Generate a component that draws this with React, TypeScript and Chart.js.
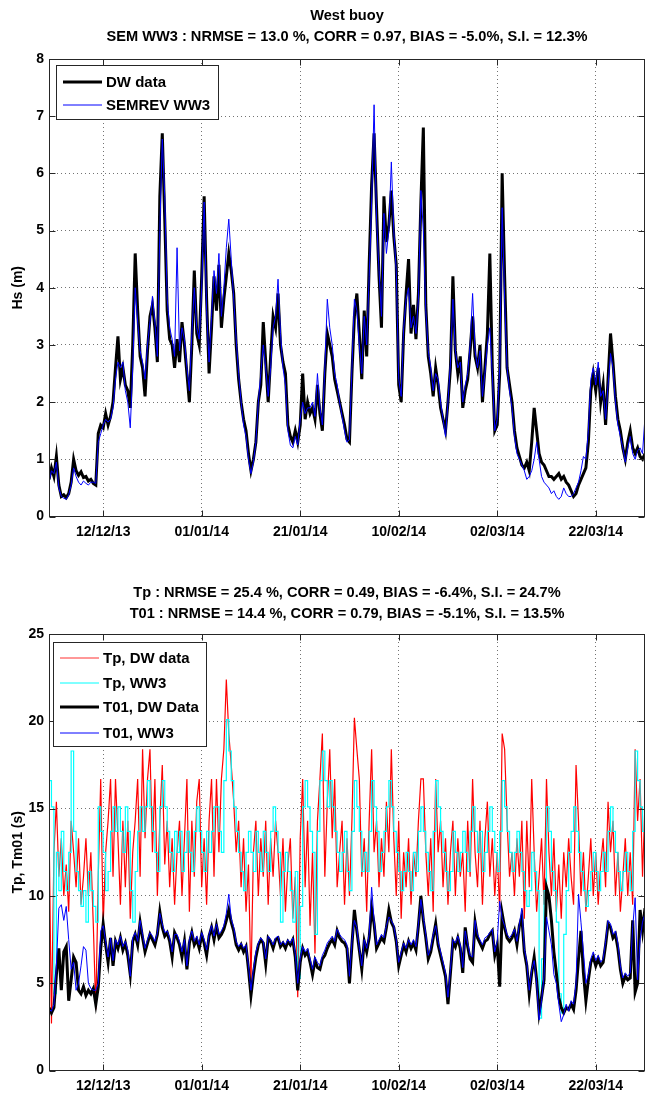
import React, { useEffect, useRef } from 'react';
import { Chart, registerables } from 'chart.js';

Chart.register(...registerables);

// ---- time axis (days since 01/12/2013) ----
const SAMPLE_STEP_DAYS = 0.5;
const X_MIN_DAY = 0;
const X_MAX_DAY = 121;
const X_TICK_DAYS = [11, 31, 51, 71, 91, 111];
const X_TICK_LABELS = ['12/12/13', '01/01/14', '21/01/14', '10/02/14', '02/03/14', '22/03/14'];

const HS_TICKS = [0, 1, 2, 3, 4, 5, 6, 7, 8];
const PERIOD_TICKS = [0, 5, 10, 15, 20, 25];

const TOP_TITLE = ['West buoy', 'SEM WW3 : NRMSE = 13.0 %, CORR = 0.97, BIAS = -5.0%, S.I. = 12.3%'];
const BOTTOM_TITLE = [
  'Tp : NRMSE = 25.4 %, CORR = 0.49, BIAS = -6.4%, S.I. = 24.7%',
  'T01 : NRMSE = 14.4 %, CORR = 0.79, BIAS = -5.1%, S.I. = 13.5%',
];

// ---- Hs (m), one value every half day ----
const HS_DW = [
  0.65, 0.85, 0.7, 1.05, 0.55, 0.35, 0.38, 0.33, 0.4, 0.6,
  1.0, 0.8, 0.72, 0.78, 0.68, 0.7, 0.62, 0.65, 0.58, 0.55,
  1.45, 1.6, 1.55, 1.8, 1.6, 1.75, 2.0, 2.6, 3.15, 2.4,
  2.6, 2.3, 2.2, 1.9, 3.0, 4.6, 3.6, 2.8, 2.6, 2.1,
  2.9, 3.5, 3.7, 3.3, 2.7, 5.6, 6.7, 5.2, 3.6, 3.1,
  3.0, 2.6, 3.1, 2.7, 3.4, 3.0, 2.5, 2.0, 3.0, 4.3,
  3.2, 3.0, 4.2, 5.6, 3.8, 2.5, 3.3, 4.2, 3.6, 4.4,
  3.3, 3.8, 4.2, 4.6, 4.3, 3.9, 3.0, 2.4, 2.0, 1.7,
  1.5, 1.1, 0.8, 1.0, 1.3, 2.0, 2.3, 3.4, 2.7, 2.0,
  2.8, 3.5, 3.3, 3.9, 3.0, 2.7, 2.5, 1.6, 1.4, 1.3,
  1.5, 1.3, 1.6, 2.5, 1.7, 2.0, 1.8, 1.9, 1.7, 2.3,
  1.8, 1.5, 2.5, 3.2, 3.0, 2.8, 2.4, 2.2, 2.0, 1.8,
  1.6, 1.35, 1.3, 2.5, 3.5, 3.9, 3.2, 2.4, 3.6, 2.8,
  4.4, 5.8, 6.7, 5.4, 4.2, 3.3, 5.6, 4.8, 5.1, 5.7,
  4.9, 4.4, 2.3, 2.0, 3.2, 3.9, 4.5, 3.2, 3.7, 3.1,
  3.9, 5.5, 6.8, 3.7, 2.8, 2.5, 2.1, 2.6, 2.3, 1.9,
  1.7, 1.5, 2.0, 2.6, 4.2, 2.9, 2.5, 2.8, 1.9, 2.2,
  2.4, 2.9, 3.5, 2.8, 2.6, 3.0, 2.0, 2.6, 3.2, 4.6,
  2.6, 1.5, 1.6, 2.5, 6.0, 4.2, 2.6, 2.3, 2.0, 1.5,
  1.2, 1.05, 0.9, 0.85, 0.95, 0.8, 1.3, 1.9, 1.5, 1.1,
  0.95, 0.9, 0.8, 0.7, 0.7, 0.65, 0.7, 0.75, 0.65, 0.7,
  0.6, 0.55, 0.45, 0.35, 0.4, 0.55, 0.65, 0.75, 0.85, 1.3,
  2.2, 2.5, 2.2, 2.6, 2.0, 2.3, 1.6, 2.4, 3.2, 2.7,
  2.1, 1.7, 1.5, 1.2, 1.0, 1.3, 1.5, 1.2, 1.1, 1.2,
  1.05, 1.0, 1.1,
];

const HS_WW3 = [
  0.6, 0.8, 0.75, 0.95, 0.5, 0.35, 0.32, 0.3, 0.38, 0.55,
  0.85, 0.7, 0.6, 0.55, 0.62, 0.58, 0.55, 0.6, 0.6, 0.58,
  1.3, 1.45, 1.6, 1.7, 1.65, 1.7, 1.9, 2.4, 2.7, 2.6,
  2.7, 2.2, 2.0, 1.55, 2.6, 4.0, 3.4, 2.9, 2.7, 2.4,
  3.0, 3.4, 3.85, 3.4, 2.8, 5.0, 6.6, 5.6, 3.8, 3.3,
  3.1, 2.8, 4.7, 2.9, 3.3, 3.1, 2.6, 2.2, 3.2, 4.0,
  3.3, 3.1, 4.0, 5.5, 3.6, 2.7, 3.5, 4.3, 3.9, 4.6,
  3.5, 4.0, 4.7, 5.2, 4.5, 3.8, 3.1, 2.5, 2.0, 1.6,
  1.4, 1.0, 0.75, 0.95, 1.3, 2.0, 2.5, 3.0, 2.6, 2.1,
  2.6, 3.3, 3.5, 4.15, 3.2, 2.6, 2.3, 1.5, 1.25, 1.2,
  1.4, 1.25, 1.7, 2.0, 1.8, 1.9, 1.9, 2.0, 1.75, 2.5,
  1.9, 1.6, 2.6, 3.8, 3.3, 3.0, 2.5, 2.3, 2.0, 1.75,
  1.5, 1.3, 1.35, 2.6, 3.8, 3.6, 3.0, 2.5, 3.5, 3.0,
  4.2, 5.5, 7.2, 5.2, 4.3, 3.5, 5.3, 4.6, 5.0, 6.2,
  5.0, 4.3, 2.4, 2.1, 3.3, 3.8, 4.0, 3.3, 3.5, 3.2,
  3.8, 5.7, 5.0, 3.6, 2.9, 2.6, 2.2, 2.5, 2.4, 2.0,
  1.7, 1.4, 2.0, 2.7, 3.8, 2.9, 2.6, 2.7, 2.0, 2.3,
  2.5, 3.0, 3.9, 2.9, 2.6, 2.9, 2.1, 2.5, 3.0, 3.3,
  2.5, 1.5, 1.7, 2.6, 5.4, 3.8, 2.6, 2.2, 1.9, 1.4,
  1.1, 1.0, 0.9, 0.8, 0.65, 0.7, 0.8, 1.0, 1.3, 1.0,
  0.7, 0.6, 0.55, 0.5, 0.4, 0.45, 0.35, 0.3, 0.35, 0.5,
  0.4, 0.35, 0.35, 0.4, 0.5, 0.6, 0.8, 1.05, 1.0, 1.5,
  2.4, 2.6, 2.3, 2.7, 2.1, 2.2, 1.7, 2.3, 2.85, 2.6,
  2.0, 1.6, 1.4, 1.2, 0.95, 1.2, 1.4, 1.1, 1.0, 1.15,
  1.2, 1.1, 1.75,
];

// ---- periods (s), one value every half day ----
const TP_DW = [
  14.3, 2.7, 12.5, 15.4, 11.1, 13.3, 10.0, 11.8, 9.1, 14.3,
  12.5, 10.5, 13.3, 9.5, 11.1, 13.3, 10.0, 12.5, 8.3, 3.5,
  11.1, 16.7, 8.3, 12.5, 14.3, 16.7, 11.1, 16.7, 13.3, 9.5,
  14.3, 10.5, 14.3, 8.7, 12.5, 14.3, 16.7, 11.1, 18.4, 13.3,
  16.7, 18.4, 12.5, 16.7, 10.0, 14.3, 17.5, 11.8, 14.3, 10.5,
  13.3, 9.5, 12.5, 14.3, 10.0, 13.3, 16.7, 9.1, 14.3, 11.1,
  15.4, 16.7, 10.5, 13.3, 9.5, 14.3, 16.7, 11.1, 16.7, 12.5,
  16.7, 18.4, 22.4, 19.3, 17.5, 15.4, 12.5, 14.3, 10.5, 13.3,
  9.1, 11.8, 5.0, 12.5, 14.3, 10.0, 13.3, 11.1, 14.3, 9.5,
  13.3, 11.1, 14.3, 12.5, 10.0, 13.3, 9.1, 11.8, 13.3, 8.7,
  11.1, 4.2, 13.3, 16.7, 10.5, 14.3, 8.3, 12.5, 6.7, 14.3,
  16.7, 19.3, 11.1, 15.4, 18.4, 13.3, 16.7, 10.5, 12.5, 14.3,
  9.5, 13.3, 10.0, 14.3, 20.2, 18.4, 16.7, 11.1, 13.3, 9.1,
  14.3, 18.4, 12.5, 14.3, 10.5, 13.3, 11.1, 15.4, 12.5, 18.4,
  13.3, 10.0, 14.3, 8.7, 12.5, 10.5, 13.3, 9.5, 12.5, 11.1,
  14.3, 16.7, 16.7, 12.5, 10.0, 13.3, 9.1, 16.7, 12.5, 14.3,
  10.5, 13.3, 9.5, 12.5, 14.3, 10.0, 13.3, 11.1, 12.5, 9.1,
  14.3, 11.1, 16.7, 12.5, 10.5, 14.3, 9.5, 13.3, 15.4, 11.1,
  13.3, 10.0, 12.5, 9.1, 19.3, 18.4, 14.3, 11.1, 12.5, 10.0,
  13.3, 11.1, 14.3, 8.7, 14.3, 10.5, 16.7, 12.5, 9.1, 11.1,
  13.3, 9.5, 16.7, 12.5, 10.0, 13.3, 9.1, 11.8, 8.7, 12.5,
  10.5, 13.3, 11.1, 9.5, 17.5, 14.3, 10.0, 12.5, 9.1, 11.1,
  13.3, 10.0, 12.5, 9.5, 11.8, 13.3, 10.5, 15.4, 12.5, 14.3,
  10.0, 12.5, 9.1, 11.1, 13.3, 10.0, 12.5, 9.5, 18.4, 14.3,
  16.7, 11.1, 15.4,
];

const TP_WW3 = [
  16.6, 15.1, 4.4, 12.5, 10.3, 13.7, 11.4, 10.3, 12.5, 18.3,
  13.7, 11.4, 10.3, 9.4, 10.3, 8.5, 11.4, 10.3, 9.4, 8.5,
  15.1, 13.7, 12.5, 10.3, 11.4, 13.7, 15.1, 13.7, 15.1, 13.7,
  12.5, 15.1, 13.7, 10.3, 8.5, 11.4, 13.7, 15.1, 13.7, 15.1,
  16.6, 15.1, 13.7, 12.5, 11.4, 15.1, 16.6, 15.1, 13.7, 12.5,
  11.4, 13.7, 12.5, 13.7, 11.4, 12.5, 13.7, 12.5, 11.4, 13.7,
  15.1, 13.7, 12.5, 11.4, 13.7, 12.5, 13.7, 15.1, 15.1, 13.7,
  12.5, 16.6, 20.1, 18.3, 16.6, 15.1, 13.7, 12.5, 11.4, 10.3,
  12.5, 13.7, 12.5, 11.4, 13.7, 12.5, 11.4, 13.7, 12.5, 11.4,
  13.7, 15.1, 13.7, 12.5, 8.5, 11.4, 12.5, 11.4, 10.3, 8.5,
  11.4, 5.3, 9.4, 15.1, 16.6, 15.1, 13.7, 12.5, 7.8, 13.7,
  16.6, 18.3, 16.6, 15.1, 16.6, 15.1, 13.7, 12.5, 11.4, 12.5,
  13.7, 11.4, 10.3, 13.7, 16.6, 15.1, 13.7, 11.4, 12.5, 11.4,
  13.7, 16.6, 15.1, 13.7, 11.4, 12.5, 13.7, 15.1, 16.6, 15.1,
  13.7, 12.5, 11.4, 10.3, 11.4, 12.5, 11.4, 10.3, 12.5, 11.4,
  13.7, 15.1, 13.7, 12.5, 11.4, 10.3, 13.7, 16.6, 15.1, 13.7,
  12.5, 11.4, 10.3, 11.4, 13.7, 12.5, 11.4, 12.5, 13.7, 12.5,
  11.4, 13.7, 15.1, 13.7, 12.5, 13.7, 11.4, 12.5, 13.7, 15.1,
  13.7, 12.5, 11.4, 13.7, 16.6, 15.1, 13.7, 12.5, 11.4, 12.5,
  13.7, 12.5, 11.4, 10.3, 9.4, 10.3, 12.5, 11.4, 10.3, 3.0,
  6.4, 10.3, 15.1, 13.7, 11.4, 10.3, 8.5, 4.4, 3.3, 7.8,
  10.3, 12.5, 13.7, 15.1, 13.7, 12.5, 11.4, 10.3, 9.4, 10.3,
  11.4, 12.5, 11.4, 10.3, 11.4, 12.5, 11.4, 13.7, 15.1, 13.7,
  12.5, 11.4, 10.3, 11.4, 12.5, 11.4, 10.3, 13.7, 18.3, 16.6,
  15.1, 13.7, 12.5,
];

const T01_DW = [
  3.6, 3.3, 3.6, 5.5, 7.0, 4.6, 6.8, 7.1, 4.0, 5.2,
  6.5, 6.2, 4.6, 4.4, 4.8, 4.3, 4.6, 4.4, 4.7, 3.8,
  4.8, 7.0, 8.4, 7.2, 6.2, 7.6, 6.0, 7.4, 7.0, 7.6,
  6.9, 7.3, 6.6, 5.5, 7.4, 7.8, 7.2, 8.5, 7.6, 6.8,
  7.3, 7.8, 7.5, 7.2, 7.8, 9.1, 8.2, 7.7, 7.9, 7.4,
  6.5, 7.9, 7.6, 7.2, 6.5, 7.4, 5.8, 7.3, 7.9, 7.2,
  7.5, 7.0, 7.8, 7.3, 6.6, 7.7, 8.2, 7.5, 8.3, 7.6,
  7.8, 8.1, 8.6, 9.2, 8.5, 8.0, 7.2, 6.9, 7.2, 6.8,
  7.1, 5.8, 4.3, 5.5, 6.5, 7.2, 7.5, 7.3, 6.1, 7.6,
  7.4, 7.0, 7.5, 7.6, 7.1, 7.3, 7.0, 7.4, 7.2, 7.5,
  6.5, 4.6, 6.2, 7.0, 6.6, 6.8, 6.2, 5.5, 6.3, 5.9,
  5.8, 6.4, 6.6, 7.0, 7.3, 7.5, 7.2, 8.0, 7.6, 7.4,
  7.3, 7.0, 5.0, 7.2, 9.2, 8.0, 6.9, 5.8, 7.4, 6.8,
  7.6, 9.3, 8.4, 7.0, 7.3, 7.6, 7.4, 8.2, 9.2, 8.5,
  8.2, 7.4, 6.0, 6.6, 7.2, 6.8, 7.4, 7.0, 7.3, 6.9,
  8.3, 10.0, 8.6, 7.6, 6.4, 6.8, 7.6, 8.4, 7.2, 6.6,
  6.0, 5.4, 3.8, 5.6, 7.4, 7.1, 7.6, 7.0, 5.6, 8.2,
  7.1, 6.4, 6.2, 8.5, 7.6, 7.3, 7.0, 7.4, 7.5, 7.8,
  8.0, 6.6, 7.2, 4.8, 9.0, 8.2, 7.6, 7.4, 7.6, 8.0,
  7.2, 8.3, 8.8, 6.8, 6.0, 4.4, 5.6, 6.5, 5.2, 3.3,
  4.2, 5.2, 10.5, 10.0, 8.6, 6.8, 5.6, 4.2, 3.6, 3.3,
  3.6, 3.5, 3.8, 3.5, 4.6, 6.4, 8.0, 5.6, 4.0, 5.2,
  6.2, 6.5, 6.0, 6.4, 6.0, 6.2, 7.2, 8.4, 8.2, 7.6,
  7.8, 7.0, 5.8, 5.0, 5.4, 5.2, 5.3, 8.6, 4.5, 5.0,
  9.2, 8.0, 9.3,
];

const T01_WW3 = [
  3.5, 3.4, 3.8, 6.0, 9.3, 9.5, 8.6, 9.4, 7.5, 5.8,
  6.2, 4.6, 5.0, 6.0, 7.1, 6.9, 5.0, 4.7, 4.6, 4.6,
  5.0, 8.0, 8.3, 7.4, 6.5, 7.6, 6.3, 7.5, 7.2, 7.7,
  7.1, 7.4, 6.9, 5.4, 7.6, 7.9, 7.4, 8.6, 7.8, 7.0,
  7.5, 7.9, 7.7, 7.4, 7.9, 9.0, 8.4, 7.9, 8.0, 7.6,
  6.8, 7.8, 7.8, 7.4, 6.8, 7.5, 6.0, 7.5, 8.0, 7.4,
  7.7, 7.2, 7.9, 7.5, 6.9, 7.8, 8.3, 7.7, 8.4, 7.8,
  8.0, 8.3, 9.0, 10.1, 8.7, 8.2, 7.4, 7.1, 7.3, 7.0,
  7.2, 6.0, 4.6, 5.8, 6.8, 7.3, 7.6, 7.4, 6.4, 7.7,
  7.5, 7.2, 7.6, 7.7, 7.2, 7.4, 7.2, 7.5, 7.3, 7.6,
  6.7, 5.0, 6.4, 7.1, 6.8, 7.0, 6.4, 5.8, 6.5, 6.2,
  6.0, 6.6, 6.9, 7.3, 7.5, 7.7, 7.4, 8.1, 7.8, 7.6,
  7.5, 7.2, 5.4, 7.4, 8.6, 8.2, 7.0, 6.0, 7.5, 7.0,
  7.8, 10.5, 8.6, 7.2, 7.5, 7.8, 7.6, 8.3, 8.8, 8.6,
  8.3, 7.5, 6.2, 6.8, 7.3, 7.0, 7.5, 7.2, 7.5, 7.1,
  8.4, 9.8, 8.8, 7.8, 6.6, 7.0, 7.8, 8.3, 7.4, 6.8,
  6.2, 5.6, 4.2, 5.8, 7.5, 7.3, 7.7, 7.2, 5.9, 8.0,
  7.3, 6.6, 6.5, 8.6, 7.8, 7.5, 7.2, 7.6, 7.7, 7.9,
  8.1, 6.8, 7.4, 9.7, 8.7, 8.3, 7.8, 7.6, 7.8, 8.1,
  7.4, 8.4, 9.3, 7.0, 6.2, 4.6, 5.8, 6.3, 5.0, 2.9,
  4.0, 5.4, 8.8, 8.0, 7.2, 5.5, 5.0, 3.8, 2.8, 3.2,
  3.8, 3.4, 4.0, 3.8, 5.0, 10.1, 8.5, 6.8, 5.0, 5.5,
  6.4, 6.8, 6.3, 6.6, 6.2, 6.4, 7.4, 8.6, 8.4, 7.8,
  8.0, 7.3, 6.0, 5.3, 5.6, 5.4, 5.6, 8.2, 9.9, 5.2,
  7.5, 8.5, 9.0,
];

// ---- styling ----
const FONT_FAMILY = '"Liberation Sans", Arial, Helvetica, sans-serif';
const AXIS_COLOR = '#262626';
const GRID_COLOR = 'rgba(0,0,0,0.55)';

const toPoints = (values: number[]) =>
  values.map((v, i) => ({ x: X_MIN_DAY + i * SAMPLE_STEP_DAYS, y: v }));

type LegendEntry = { label: string; color: string; width: number };

function framePlugin() {
  return {
    id: 'frameTicks',
    afterDatasetsDraw(chart: any) {
      const { ctx, chartArea: a, scales } = chart;
      ctx.save();
      ctx.strokeStyle = AXIS_COLOR;
      ctx.lineWidth = 1;
      const L = Math.round(a.left) + 0.5;
      const R = Math.round(a.right) - 0.5;
      const T = Math.round(a.top) + 0.5;
      const B = Math.round(a.bottom) - 0.5;
      ctx.strokeRect(L, T, R - L, B - T);
      const len = 6;
      ctx.beginPath();
      for (const t of scales.x.ticks) {
        const px = Math.round(scales.x.getPixelForValue(t.value)) + 0.5;
        ctx.moveTo(px, B);
        ctx.lineTo(px, B - len);
        ctx.moveTo(px, T);
        ctx.lineTo(px, T + len);
      }
      for (const t of scales.y.ticks) {
        const py = Math.round(scales.y.getPixelForValue(t.value)) + 0.5;
        ctx.moveTo(L, py);
        ctx.lineTo(L + len, py);
        ctx.moveTo(R, py);
        ctx.lineTo(R - len, py);
      }
      ctx.stroke();
      ctx.restore();
    },
  };
}

function legendPlugin(box: { x: number; y: number; w: number; h: number }, entries: LegendEntry[], rowYs: number[]) {
  return {
    id: 'boxLegend',
    afterDraw(chart: any) {
      const { ctx } = chart;
      ctx.save();
      ctx.fillStyle = '#ffffff';
      ctx.fillRect(box.x, box.y, box.w, box.h);
      ctx.strokeStyle = AXIS_COLOR;
      ctx.lineWidth = 1;
      ctx.strokeRect(box.x + 0.5, box.y + 0.5, box.w, box.h);
      ctx.font = `bold 15px ${FONT_FAMILY}`;
      ctx.textBaseline = 'middle';
      ctx.textAlign = 'left';
      entries.forEach((e, i) => {
        const y = rowYs[i];
        ctx.strokeStyle = e.color;
        ctx.lineWidth = e.width;
        ctx.beginPath();
        ctx.moveTo(box.x + 7, y);
        ctx.lineTo(box.x + 46, y);
        ctx.stroke();
        ctx.fillStyle = '#000';
        ctx.fillText(e.label, box.x + 50, y + 1);
      });
      ctx.restore();
    },
  };
}

function titlePlugin(lines: string[], ys: number[], cx: number) {
  return {
    id: 'titleLines',
    afterDraw(chart: any) {
      const { ctx } = chart;
      ctx.save();
      ctx.font = `bold 14.6px ${FONT_FAMILY}`;
      ctx.fillStyle = '#000';
      ctx.textAlign = 'center';
      ctx.textBaseline = 'middle';
      lines.forEach((l, i) => ctx.fillText(l, cx, ys[i]));
      ctx.restore();
    },
  };
}

function makeOptions(yTicks: number[], yTitle: string, padTop: number, xHeight: number) {
  const tickFont = { family: FONT_FAMILY, size: 14, weight: 'bold' as const };
  return {
    animation: false as const,
    responsive: false,
    maintainAspectRatio: false,
    events: [] as any[],
    layout: { padding: { left: 0, right: 6, top: padTop, bottom: 0 } },
    plugins: {
      legend: { display: false },
      title: { display: false },
      tooltip: { enabled: false },
    },
    elements: { point: { radius: 0 }, line: { tension: 0 } },
    scales: {
      x: {
        type: 'linear' as const,
        min: X_MIN_DAY,
        max: X_MAX_DAY,
        afterBuildTicks: (s: any) => {
          s.ticks = X_TICK_DAYS.map((v) => ({ value: v }));
        },
        afterFit: (s: any) => {
          s.height = xHeight;
        },
        ticks: {
          autoSkip: false,
          maxRotation: 0,
          minRotation: 0,
          padding: 7,
          color: '#000',
          font: tickFont,
          callback: (v: any) => X_TICK_LABELS[X_TICK_DAYS.indexOf(Number(v))] ?? '',
        },
        grid: { color: GRID_COLOR, lineWidth: 1, drawTicks: false },
        border: { display: false, dash: [1, 3] },
      },
      y: {
        type: 'linear' as const,
        min: yTicks[0],
        max: yTicks[yTicks.length - 1],
        afterBuildTicks: (s: any) => {
          s.ticks = yTicks.map((v) => ({ value: v }));
        },
        afterFit: (s: any) => {
          s.width = 49;
        },
        ticks: { padding: 5, color: '#000', font: tickFont },
        grid: { color: GRID_COLOR, lineWidth: 1, drawTicks: false },
        border: { display: false, dash: [1, 3] },
        title: {
          display: true,
          text: yTitle,
          color: '#000',
          font: tickFont,
          padding: { top: 10, bottom: 0 },
        },
      },
    },
  };
}

export default function App() {
  const topRef = useRef<HTMLCanvasElement>(null);
  const botRef = useRef<HTMLCanvasElement>(null);

  useEffect(() => {
    const top = new Chart(topRef.current as HTMLCanvasElement, {
      type: 'line',
      data: {
        datasets: [
          { label: 'DW data', data: toPoints(HS_DW), borderColor: '#000000', borderWidth: 3, order: 1 },
          { label: 'SEMREV WW3', data: toPoints(HS_WW3), borderColor: '#0000ff', borderWidth: 1, order: 0 },
        ],
      },
      options: makeOptions(HS_TICKS, 'Hs (m)', 59, 33.5) as any,
      plugins: [
        framePlugin(),
        legendPlugin(
          { x: 56, y: 65, w: 162, h: 54 },
          [
            { label: 'DW data', color: '#000000', width: 3 },
            { label: 'SEMREV WW3', color: '#0000ff', width: 1 },
          ],
          [82, 105]
        ),
        titlePlugin(TOP_TITLE, [16, 37], 347),
      ],
    });

    const bottom = new Chart(botRef.current as HTMLCanvasElement, {
      type: 'line',
      data: {
        datasets: [
          { label: 'Tp, DW data', data: toPoints(TP_DW), borderColor: '#ff0000', borderWidth: 1.2, order: 3 },
          { label: 'Tp, WW3', data: toPoints(TP_WW3), borderColor: '#00ffff', borderWidth: 1.2, stepped: true, order: 2 },
          { label: 'T01, DW Data', data: toPoints(T01_DW), borderColor: '#000000', borderWidth: 3, order: 1 },
          { label: 'T01, WW3', data: toPoints(T01_WW3), borderColor: '#0000ff', borderWidth: 1, order: 0 },
        ],
      },
      options: makeOptions(PERIOD_TICKS, 'Tp, Tm01 (s)', 84, 24.4) as any,
      plugins: [
        framePlugin(),
        legendPlugin(
          { x: 53, y: 92, w: 153, h: 104 },
          [
            { label: 'Tp, DW data', color: '#ff3030', width: 1 },
            { label: 'Tp, WW3', color: '#00ffff', width: 1 },
            { label: 'T01, DW Data', color: '#000000', width: 3 },
            { label: 'T01, WW3', color: '#0000ff', width: 1 },
          ],
          [108, 133, 157, 183]
        ),
        titlePlugin(BOTTOM_TITLE, [43, 64], 347),
      ],
    });

    return () => {
      top.destroy();
      bottom.destroy();
    };
  }, []);

  return (
    <div style={{ position: 'absolute', left: 0, top: 0, width: 651, height: 1095, background: '#ffffff' }}>
      <canvas
        ref={topRef}
        width={651}
        height={550}
        style={{ position: 'absolute', left: 0, top: 0, width: 651, height: 550 }}
      />
      <canvas
        ref={botRef}
        width={651}
        height={545}
        style={{ position: 'absolute', left: 0, top: 550, width: 651, height: 545 }}
      />
    </div>
  );
}
